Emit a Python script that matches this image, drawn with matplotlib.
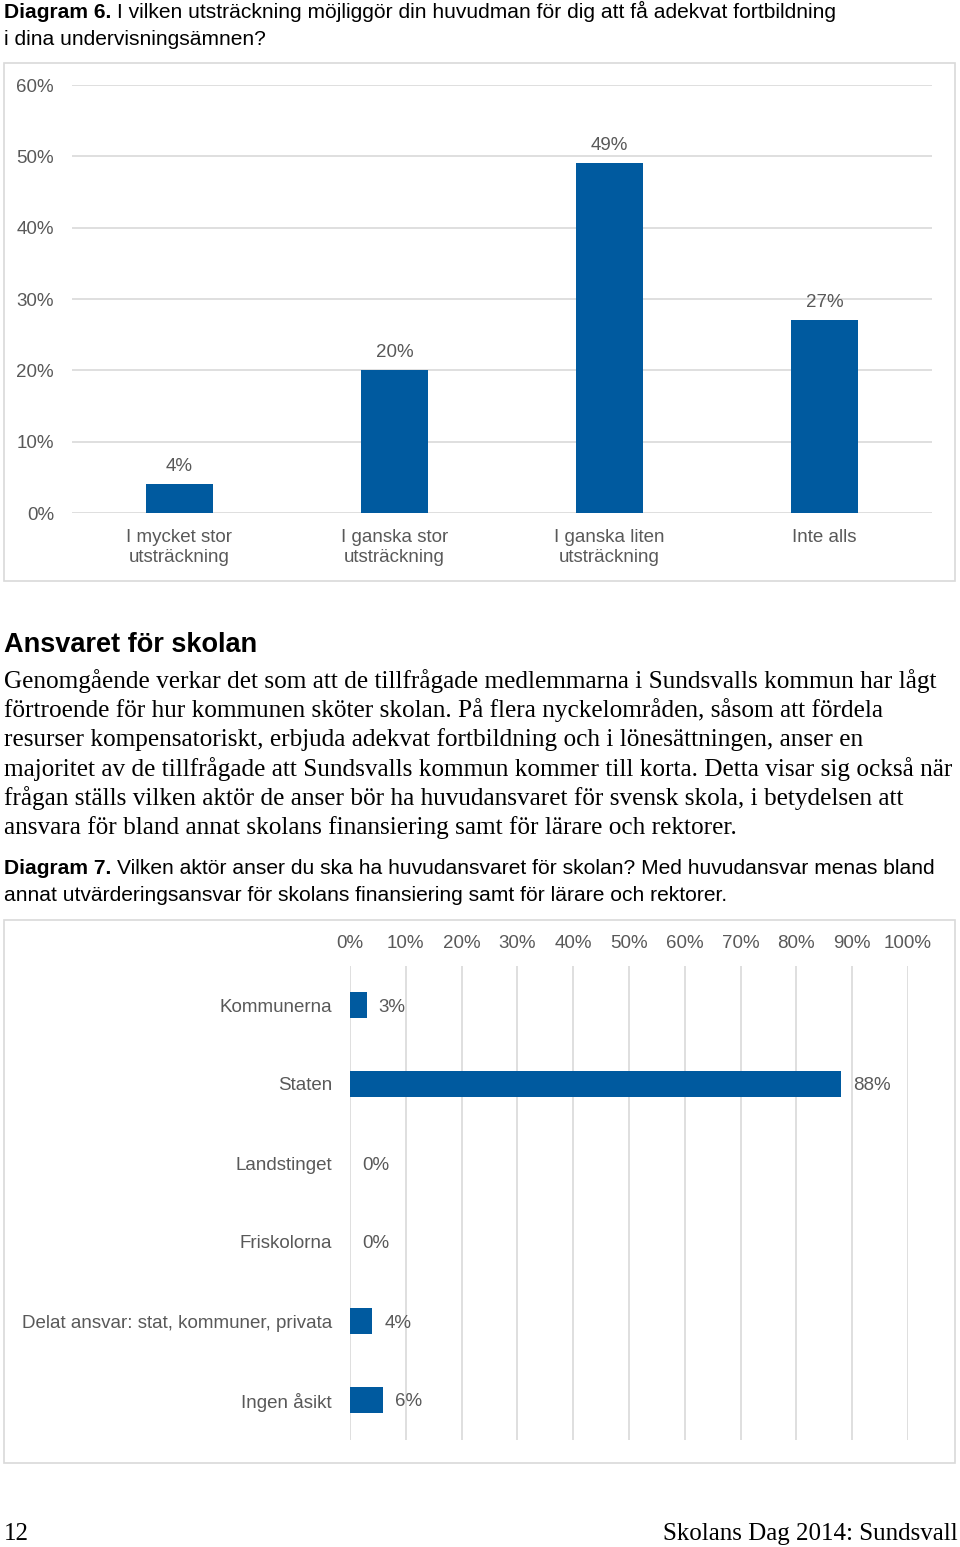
import matplotlib
matplotlib.use("Agg")
import matplotlib.pyplot as plt
from matplotlib.patches import Rectangle

W, H = 960, 1547
SANS = "Liberation Sans"
SERIF = "Liberation Serif"
BLUE = "#005A9F"
GRID = "#D9D9D9"
TXT = "#595959"

# ---------------- data ----------------
cat1 = ["I mycket stor\nutsträckning", "I ganska stor\nutsträckning",
        "I ganska liten\nutsträckning", "Inte alls"]
val1 = [4, 20, 49, 27]
yticks1 = [0, 10, 20, 30, 40, 50, 60]

cat2 = ["Kommunerna", "Staten", "Landstinget", "Friskolorna",
        "Delat ansvar: stat, kommuner, privata", "Ingen åsikt"]
val2 = [3, 88, 0, 0, 4, 6]
xticks2 = [0, 10, 20, 30, 40, 50, 60, 70, 80, 90, 100]

body_lines = [
    "Genomgående verkar det som att de tillfrågade medlemmarna i Sundsvalls kommun har lågt",
    "förtroende för hur kommunen sköter skolan. På flera nyckelområden, såsom att fördela",
    "resurser kompensatoriskt, erbjuda adekvat fortbildning och i lönesättningen, anser en",
    "majoritet av de tillfrågade att Sundsvalls kommun kommer till korta. Detta visar sig också när",
    "frågan ställs vilken aktör de anser bör ha huvudansvaret för svensk skola, i betydelsen att",
    "ansvara för bland annat skolans finansiering samt för lärare och rektorer.",
]

fig = plt.figure(figsize=(W / 100, H / 100), dpi=100)
fig.patch.set_facecolor("white")


def fx(x):
    return x / W


def fy(y):
    return 1 - y / H


def box(x0, y0, x1, y1):
    fig.patches.append(Rectangle((fx(x0), fy(y1)), fx(x1) - fx(x0), fy(y0) - fy(y1),
                                 transform=fig.transFigure, fill=False,
                                 edgecolor=GRID, linewidth=1.2))


# ---------------- title 6 ----------------
fig.text(fx(4), fy(18), "Diagram 6.", family=SANS, weight="bold", fontsize=15.1, va="baseline")
fig.text(fx(117), fy(18), "I vilken utsträckning möjliggör din huvudman för dig att få adekvat fortbildning",
         family=SANS, fontsize=15.1, va="baseline")
fig.text(fx(4), fy(45), "i dina undervisningsämnen?", family=SANS, fontsize=15.1, va="baseline")

# ---------------- chart 1 ----------------
box(4, 63, 955, 581)
ax1 = fig.add_axes([fx(72), fy(513), fx(932) - fx(72), fy(85) - fy(513)])
x1 = list(range(len(cat1)))
ax1.bar(x1, val1, width=0.316, color=BLUE, zorder=3)
ax1.set_xlim(-0.5, len(cat1) - 0.5)
ax1.set_ylim(0, 60)
ax1.set_yticks(yticks1)
ax1.set_yticklabels([f"{v}%" for v in yticks1])
ax1.set_xticks(x1)
ax1.set_xticklabels(cat1, linespacing=1.22)
ax1.grid(axis="y", color=GRID, linewidth=1.2, zorder=0)
for s in ax1.spines.values():
    s.set_visible(False)
ax1.tick_params(axis="both", length=0, labelsize=13.5, labelcolor=TXT)
ax1.tick_params(axis="y", pad=13)
ax1.tick_params(axis="x", pad=11.5)
for lab in ax1.get_xticklabels() + ax1.get_yticklabels():
    lab.set_family(SANS)
for xi, v in zip(x1, val1):
    ax1.annotate(f"{v}%", (xi, v), xytext=(0, 14.5), textcoords="offset points",
                 ha="center", va="center_baseline", fontsize=13.5, color=TXT, family=SANS)

# ---------------- section text ----------------
fig.text(fx(4), fy(652), "Ansvaret för skolan", family=SANS, weight="bold",
         fontsize=19.5, va="baseline", color="black")
for i, line in enumerate(body_lines):
    fig.text(fx(4), fy(688 + 29.2 * i), line, family=SERIF, fontsize=18.2,
             va="baseline", color="black")

fig.text(fx(4), fy(874), "Diagram 7.", family=SANS, weight="bold", fontsize=15.1, va="baseline")
fig.text(fx(117), fy(874), "Vilken aktör anser du ska ha huvudansvaret för skolan? Med huvudansvar menas bland",
         family=SANS, fontsize=15.1, va="baseline")
fig.text(fx(4), fy(901), "annat utvärderingsansvar för skolans finansiering samt för lärare och rektorer.",
         family=SANS, fontsize=15.1, va="baseline")

# ---------------- chart 2 ----------------
box(4, 920, 955, 1463)
ax2 = fig.add_axes([fx(350), fy(1439.5), fx(908) - fx(350), fy(965.5) - fy(1439.5)])
y2 = list(range(len(cat2)))
ax2.barh(y2, val2, height=0.34, color=BLUE, zorder=3)
ax2.set_xlim(0, 100)
ax2.set_ylim(len(cat2) - 0.5, -0.5)
ax2.set_xticks(xticks2)
ax2.set_xticklabels([f"{v}%" for v in xticks2])
ax2.set_yticks(y2)
ax2.set_yticklabels(cat2)
ax2.xaxis.tick_top()
ax2.grid(axis="x", color=GRID, linewidth=1.2, zorder=0)
for s in ax2.spines.values():
    s.set_visible(False)
ax2.tick_params(axis="both", length=0, labelsize=13.5, labelcolor=TXT)
ax2.tick_params(axis="y", pad=13)
ax2.tick_params(axis="x", pad=9.5)
for lab in ax2.get_xticklabels() + ax2.get_yticklabels():
    lab.set_family(SANS)
for yi, v in zip(y2, val2):
    ax2.annotate(f"{v}%", (v, yi), xytext=(8.6, 0), textcoords="offset points",
                 ha="left", va="center_baseline", fontsize=13.5, color=TXT, family=SANS)

# ---------------- footer ----------------
fig.text(fx(4), fy(1540), "12", family=SERIF, fontsize=18, va="baseline")
fig.text(fx(958), fy(1540), "Skolans Dag 2014: Sundsvall", family=SERIF, fontsize=18,
         va="baseline", ha="right")

fig.savefig("out.png", dpi=100, facecolor="white")
